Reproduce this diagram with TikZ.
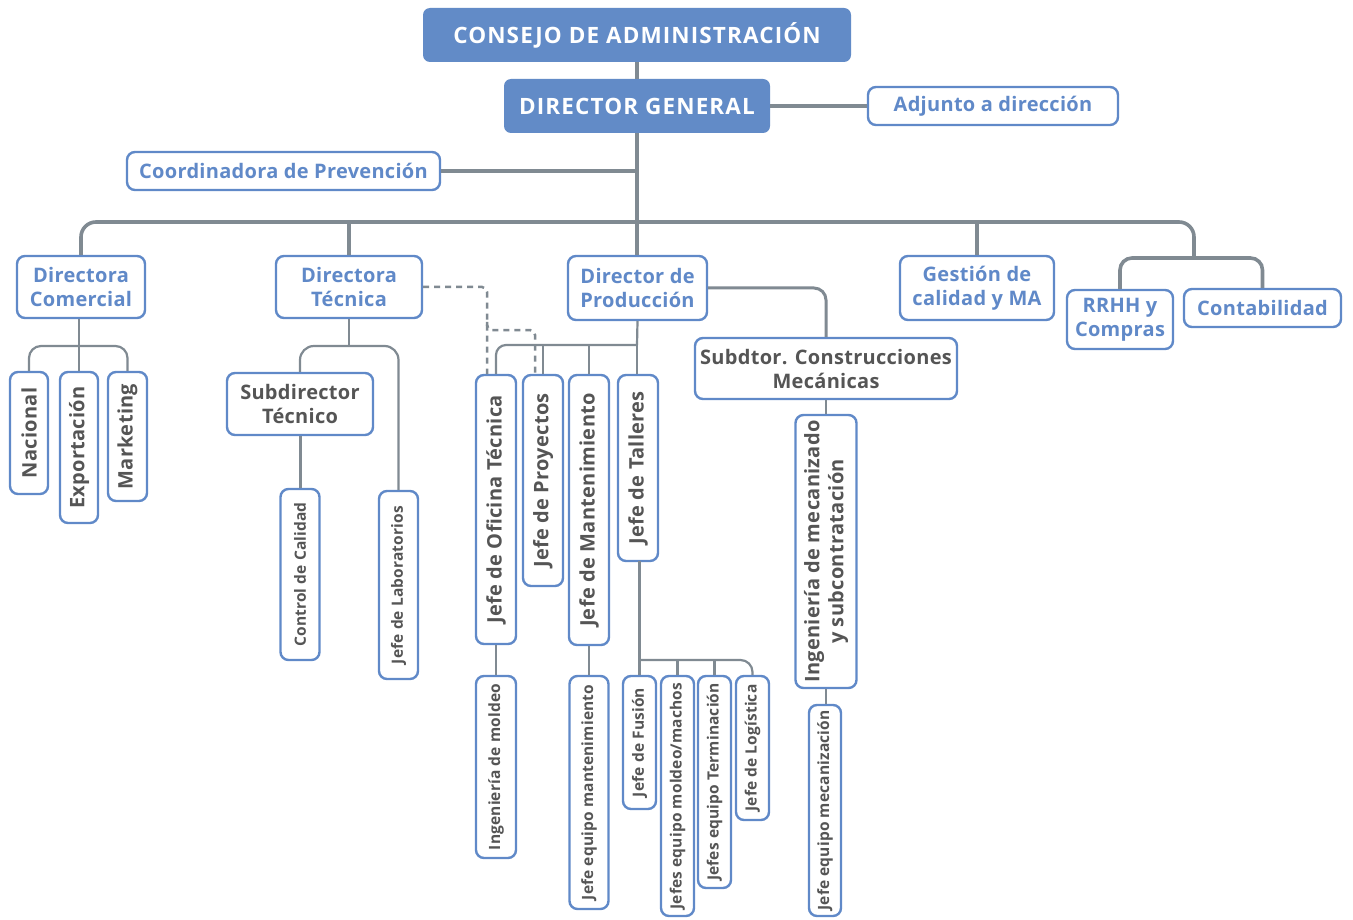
\documentclass[tikz,border=0pt]{standalone}
\usepackage{fontspec}
\setmainfont{Open Sans}
\definecolor{dblue}{RGB}{98,139,199}
\definecolor{bblue}{RGB}{96,137,200}
\definecolor{tgray}{RGB}{85,85,85}
\definecolor{lgray}{RGB}{128,138,146}
\tikzset{
 fillbox/.style={fill=dblue, rounded corners=7, text=white, font=\bfseries\fontsize{22.5}{26}\selectfont\addfontfeatures{LetterSpace=5}, inner sep=0pt},
 bluebox/.style={draw=bblue, line width=2.4pt, fill=white, rounded corners=8, text=bblue, font=\bfseries\fontsize{20}{24}\selectfont\addfontfeatures{LetterSpace=1.5}, inner sep=0pt, align=center},
 graybox/.style={bluebox, text=tgray},
 vbig/.style={graybox, rotate=90},
 vsmall/.style={graybox, rotate=90, font=\bfseries\fontsize{15.5}{18}\selectfont\addfontfeatures{LetterSpace=1}},
 conn/.style={draw=lgray, line width=3.6pt},
 subconn/.style={draw=lgray, line width=2.2pt},
 dashconn/.style={draw=lgray, line width=2.5pt, dash pattern=on 6pt off 5pt},
}
\begin{document}
\begin{tikzpicture}[x=1pt,y=-1pt]
\useasboundingbox (0,0) rectangle (1353,920);
\fill[white] (0,0) rectangle (1353,920);
% coordinates of junctions
\coordinate (j1) at (637,171);
\coordinate (bar) at (637,222);
\coordinate (split) at (1194,258);
\coordinate (dcb) at (80,346);
\coordinate (dtb) at (349,346);
\coordinate (dpb) at (637,345);
\coordinate (tb) at (638,660);
\coordinate (dsa) at (487,374);
\coordinate (dsb) at (487,322);
\coordinate (dsc) at (535,330);
\coordinate (dsd) at (535,375);

% nodes
\node[fillbox, minimum width=428, minimum height=54] (cons) at (637,35) {CONSEJO DE ADMINISTRACIÓN};
\node[fillbox, minimum width=266, minimum height=54] (dg) at (637,106) {DIRECTOR GENERAL};
\node[bluebox, minimum width=250, minimum height=38] (adj) at (993,106) {Adjunto a dirección};
\node[bluebox, minimum width=313, minimum height=38] (coord) at (283.5,171) {Coordinadora de Prevención};

\node[bluebox, minimum width=128, minimum height=62] (dc) at (81,287) {Directora\\Comercial};
\node[bluebox, minimum width=146, minimum height=62] (dt) at (349,287) {Directora\\Técnica};
\node[bluebox, minimum width=139, minimum height=64] (dp) at (637.5,288) {Director de\\Producción};
\node[bluebox, minimum width=154, minimum height=64] (gc) at (977,288) {Gestión de\\calidad y MA};
\node[bluebox, minimum width=106, minimum height=59] (rrhh) at (1120,319.5) {RRHH y\\Compras};
\node[bluebox, minimum width=157, minimum height=38] (cont) at (1262.5,308) {Contabilidad};

\node[vbig, minimum width=122, minimum height=38] (nac) at (29,433) {Nacional};
\node[vbig, minimum width=151, minimum height=38] (exp) at (79,447.5) {Exportación};
\node[vbig, minimum width=129, minimum height=39] (mkt) at (127.5,436.5) {Marketing};

\node[graybox, minimum width=146, minimum height=62] (sdt) at (300,404) {Subdirector\\Técnico};
\node[vsmall, minimum width=171, minimum height=39] (cc) at (300,574.5) {Control de Calidad};
\node[vsmall, minimum width=188, minimum height=39] (jl) at (398.5,585) {Jefe de Laboratorios};

\node[vbig, minimum width=269, minimum height=40] (jot) at (496,509.5) {Jefe de Oficina Técnica};
\node[vbig, minimum width=211, minimum height=40] (jp) at (543,480.5) {Jefe de Proyectos};
\node[vbig, minimum width=270, minimum height=40] (jm) at (589,510) {Jefe de Mantenimiento};
\node[vbig, minimum width=186, minimum height=40] (jt) at (638,468) {Jefe de Talleres};

\node[graybox, minimum width=262, minimum height=61] (sdcm) at (826,368.5) {Subdtor. Construcciones\\Mecánicas};
\node[vbig, minimum width=273, minimum height=61] (img) at (826,551.5) {Ingeniería de mecanizado\\y subcontratación};
\node[vsmall, minimum width=211, minimum height=32] (jem) at (825,810.5) {Jefe equipo mecanización};

\node[vsmall, minimum width=182, minimum height=40] (ingm) at (496,767) {Ingeniería de moldeo};
\node[vsmall, minimum width=233, minimum height=39] (jeman) at (589,792.5) {Jefe equipo mantenimiento};
\node[vsmall, minimum width=133, minimum height=33] (jf) at (639.5,742.5) {Jefe de Fusión};
\node[vsmall, minimum width=240, minimum height=33] (jemm) at (677.5,796) {Jefes equipo moldeo/machos};
\node[vsmall, minimum width=212, minimum height=33] (jet) at (714.5,782) {Jefes equipo Terminación};
\node[vsmall, minimum width=144, minimum height=33] (jlog) at (752.5,748) {Jefe de Logística};

% connectors
\draw[conn] (cons.south) -- (dg.north);
\draw[conn] (dg.east) -- (adj.west);
\draw[conn] (dg.south) -- (dp.north -| dg.south);
\draw[conn] (coord.east) -- (j1);
\draw[conn, rounded corners=15] (dc.north) |- (bar) -| (split);
\draw[conn, rounded corners=12] (rrhh.north) |- (split) -| (cont.north);
\draw[conn] (dt.north) -- (dt.north |- bar);
\draw[conn] (gc.north) -- (gc.north |- bar);

\draw[subconn, rounded corners=12] (nac.east) |- (dcb) -| (mkt.east);
\draw[subconn] (exp.east |- dc.south) -- (exp.east);

\draw[subconn] (dt.south) -- (dtb);
\draw[subconn, rounded corners=14] (sdt.north) |- (dtb) -| (jl.east);
\draw[conn, line width=3pt] (sdt.south) -- (cc.east);

\draw[subconn] (dp.south) -- (dpb);
\draw[subconn, rounded corners=10] (jot.east) |- (dpb);
\draw[subconn] (jp.east) -- (jp.east |- dpb);
\draw[subconn] (jm.east) -- (jm.east |- dpb);
\draw[subconn] (dpb) -- (jt.east -| dpb);

\draw[conn, line width=3pt, rounded corners=12] (dp.east) -| (sdcm.north);
\draw[subconn] (sdcm.south) -- (img.east);
\draw[subconn] (img.west) -- (img.west |- jem.east);

\draw[subconn] (jot.west) -- (ingm.east);
\draw[subconn] (jm.west) -- (jeman.east);
\draw[subconn] (jt.west) -- (jf.east |- jt.west) -- (jf.east);
\draw[subconn, rounded corners=12] (tb) -| (jlog.east);
\draw[subconn] (jemm.east) -- (jemm.east |- tb);
\draw[subconn] (jet.east) -- (jet.east |- tb);

\draw[dashconn, rounded corners=5] (dt.east) -| (dsa);
\draw[dashconn, rounded corners=5] (dsb) |- (dsc) -- (dsd);
\end{tikzpicture}
\end{document}
